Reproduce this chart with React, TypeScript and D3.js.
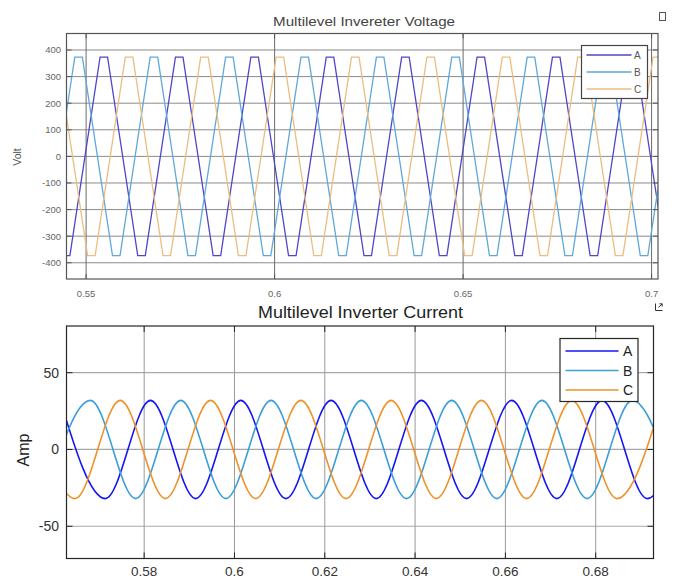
import React from 'react';
import * as d3 from 'd3';

// top panel: crest times (s) of the stepped voltage
const voltAPeaks = [0.5547, 0.5747, 0.5947, 0.6147, 0.6347, 0.6547, 0.6747, 0.6947];
const voltATroughs = [0.5447, 0.5647, 0.5847, 0.6047, 0.6247, 0.6447, 0.6647, 0.6847, 0.7047];
const voltBPeaks = [0.548, 0.568, 0.588, 0.608, 0.628, 0.648, 0.668, 0.688, 0.708];
const voltBTroughs = [0.538, 0.558, 0.578, 0.598, 0.618, 0.638, 0.658, 0.678, 0.698];
const voltCPeaks = [0.5414, 0.5614, 0.5814, 0.6014, 0.6214, 0.6414, 0.6614, 0.6814, 0.7014];
const voltCTroughs = [0.5514, 0.5714, 0.5914, 0.6114, 0.6314, 0.6514, 0.6714, 0.6914];
const voltLevel = 373; // flat top / bottom
const voltFlat = 0.001; // half width of the flat part
const voltXTicks = [0.55, 0.6, 0.65, 0.7];
const voltYTicks = [-400, -300, -200, -100, 0, 100, 200, 300, 400];

// bottom panel: peaks and troughs of the phase currents
const currAPeaks = [0.5614, 0.5814, 0.6014, 0.6214, 0.6414, 0.6614, 0.6814, 0.7014];
const currATroughs = [0.5714, 0.5914, 0.6114, 0.6314, 0.6514, 0.6714, 0.6914];
const currBPeaks = [0.5681, 0.5881, 0.6081, 0.6281, 0.6481, 0.6681, 0.6881];
const currBTroughs = [0.5581, 0.5781, 0.5981, 0.6181, 0.6381, 0.6581, 0.6781, 0.6981];
const currCPeaks = [0.5547, 0.5747, 0.5947, 0.6147, 0.6347, 0.6547, 0.6747, 0.6947];
const currCTroughs = [0.5647, 0.5847, 0.6047, 0.6247, 0.6447, 0.6647, 0.6847];
const currPeak = 32;
const currXTicks = [0.58, 0.6, 0.62, 0.64, 0.66, 0.68];
const currYTicks = [-50, 0, 50];

const phases = ['A', 'B', 'C'];
const voltColors = ['#4f46c8', '#5ea8da', '#ecbd7e'];
const currColors = ['#1515f5', '#3a9fd8', '#f0922a'];

const font = '"Liberation Sans", Arial, Helvetica, sans-serif';

const crests = (peaks: number[], troughs: number[], amp: number) =>
  [...peaks.map(t => [t, amp]), ...troughs.map(t => [t, -amp])].sort((a, b) => a[0] - b[0]);

const flatTops = (peaks: number[], troughs: number[]) =>
  crests(peaks, troughs, voltLevel).flatMap(([t, v]) => [[t - voltFlat, v], [t + voltFlat, v]]);

export default function App() {
  const vx = d3.scaleLinear().domain([0.5448, 0.7017]).range([66.5, 658]);
  const vy = d3.scaleLinear().domain([-461, 462]).range([279, 33.5]);
  const cx = d3.scaleLinear().domain([0.5628, 0.6928]).range([66.5, 653.5]);
  const cy = d3.scaleLinear().domain([-71, 80.4]).range([558.5, 326]);

  const vLine = d3.line<number[]>().x(d => vx(d[0])).y(d => vy(d[1]));
  const cLine = d3.line<number[]>().x(d => cx(d[0])).y(d => cy(d[1])).curve(d3.curveMonotoneX);

  const voltSeries = [
    flatTops(voltAPeaks, voltATroughs),
    flatTops(voltBPeaks, voltBTroughs),
    flatTops(voltCPeaks, voltCTroughs),
  ];
  const currSeries = [
    crests(currAPeaks, currATroughs, currPeak),
    crests(currBPeaks, currBTroughs, currPeak),
    crests(currCPeaks, currCTroughs, currPeak),
  ];

  const [vx0, vx1] = vx.range();
  const [vy0, vy1] = vy.range();
  const [cx0, cx1] = cx.range();
  const [cy0, cy1] = cy.range();

  return (
    <svg width={674} height={580} style={{ position: 'absolute', left: 0, top: 0, background: '#fff' }}
      fontFamily={font}>
      <defs>
        <clipPath id="clipV"><rect x={vx0} y={vy1} width={vx1 - vx0} height={vy0 - vy1} /></clipPath>
        <clipPath id="clipC"><rect x={cx0} y={cy1} width={cx1 - cx0} height={cy0 - cy1} /></clipPath>
      </defs>

      {/* ---------- voltage ---------- */}
      <text x={364} y={26} textAnchor="middle" fontSize={13} fill="#444" textLength={182}
        lengthAdjust="spacingAndGlyphs">Multilevel Invereter Voltage</text>
      <rect x={659.5} y={12.5} width={6} height={8} fill="none" stroke="#555" />

      {voltYTicks.map(v => (
        <line key={'vgy' + v} x1={vx0} x2={vx1} y1={vy(v)} y2={vy(v)} stroke="#8a8a8a" strokeWidth={1} />
      ))}
      {voltXTicks.map(t => (
        <line key={'vgx' + t} x1={vx(t)} x2={vx(t)} y1={vy0} y2={vy1} stroke="#6a6a6a" strokeWidth={1} />
      ))}
      <g clipPath="url(#clipV)">
        {voltSeries.map((s, i) => (
          <path key={'v' + i} d={vLine(s) || ''} fill="none" stroke={voltColors[i]} strokeWidth={1.3} />
        ))}
      </g>
      <rect x={vx0} y={vy1} width={vx1 - vx0} height={vy0 - vy1} fill="none" stroke="#555" strokeWidth={1.2} />
      {voltYTicks.map(v => (
        <g key={'vty' + v}>
          <line x1={vx0} x2={vx0 + 5} y1={vy(v)} y2={vy(v)} stroke="#555" />
          <line x1={vx1} x2={vx1 - 5} y1={vy(v)} y2={vy(v)} stroke="#555" />
          <text x={61} y={vy(v)} dy="0.35em" textAnchor="end" fontSize={9.5} fill="#666">{v}</text>
        </g>
      ))}
      {voltXTicks.map(t => (
        <g key={'vtx' + t}>
          <line x1={vx(t)} x2={vx(t)} y1={vy0} y2={vy0 - 5} stroke="#555" />
          <line x1={vx(t)} x2={vx(t)} y1={vy1} y2={vy1 + 5} stroke="#555" />
          <text x={vx(t)} y={297} textAnchor="middle" fontSize={9.5} fill="#666">{t}</text>
        </g>
      ))}
      <text transform={`translate(21,157) rotate(-90)`} textAnchor="middle" fontSize={10.5} fill="#555">Volt</text>

      <rect x={581.5} y={45.5} width={66} height={53} fill="#fff" stroke="#444" strokeWidth={1.2} />
      {phases.map((p, i) => (
        <g key={'vl' + p}>
          <line x1={586.5} x2={631.5} y1={55 + i * 17} y2={55 + i * 17} stroke={voltColors[i]} strokeWidth={1.3} />
          <text x={634} y={55 + i * 17} dy="0.35em" fontSize={10} fill="#555">{p}</text>
        </g>
      ))}

      {/* ---------- current ---------- */}
      <text x={360.5} y={318} textAnchor="middle" fontSize={16} fill="#222" textLength={205}
        lengthAdjust="spacingAndGlyphs">Multilevel Inverter Current</text>
      <path d="M655.5,303.5 V310.5 H662.5 M658.5,307.5 L662,304 M659.5,303.8 H662.2 V306.5" fill="none" stroke="#333" />

      {currYTicks.map(v => (
        <line key={'cgy' + v} x1={cx0} x2={cx1} y1={cy(v)} y2={cy(v)} stroke="#a8a8a8" strokeWidth={1.2} />
      ))}
      {currXTicks.map(t => (
        <line key={'cgx' + t} x1={cx(t)} x2={cx(t)} y1={cy0} y2={cy1} stroke="#9a9a9a" strokeWidth={1} />
      ))}
      <g clipPath="url(#clipC)">
        {currSeries.map((s, i) => (
          <path key={'c' + i} d={cLine(s) || ''} fill="none" stroke={currColors[i]} strokeWidth={1.6} />
        ))}
      </g>
      <rect x={cx0} y={cy1} width={cx1 - cx0} height={cy0 - cy1} fill="none" stroke="#262626" strokeWidth={1.2} />
      {currYTicks.map(v => (
        <g key={'cty' + v}>
          <line x1={cx0} x2={cx0 + 6} y1={cy(v)} y2={cy(v)} stroke="#262626" />
          <line x1={cx1} x2={cx1 - 6} y1={cy(v)} y2={cy(v)} stroke="#262626" />
          <text x={59} y={cy(v)} dy="0.35em" textAnchor="end" fontSize={14} fill="#333">{v}</text>
        </g>
      ))}
      {currXTicks.map(t => (
        <g key={'ctx' + t}>
          <line x1={cx(t)} x2={cx(t)} y1={cy0} y2={cy0 - 6} stroke="#262626" />
          <line x1={cx(t)} x2={cx(t)} y1={cy1} y2={cy1 + 6} stroke="#262626" />
          <text x={cx(t)} y={576} textAnchor="middle" fontSize={13.5} fill="#333">{t}</text>
        </g>
      ))}
      <text transform={`translate(29,450) rotate(-90)`} textAnchor="middle" fontSize={16} fill="#222">Amp</text>

      <rect x={560} y={338.5} width={78} height={63} fill="#fff" stroke="#262626" strokeWidth={1.2} />
      {phases.map((p, i) => (
        <g key={'cl' + p}>
          <line x1={565.5} x2={618.5} y1={351 + i * 19.5} y2={351 + i * 19.5} stroke={currColors[i]} strokeWidth={1.6} />
          <text x={623} y={351 + i * 19.5} dy="0.36em" fontSize={14} fill="#222">{p}</text>
        </g>
      ))}
    </svg>
  );
}
